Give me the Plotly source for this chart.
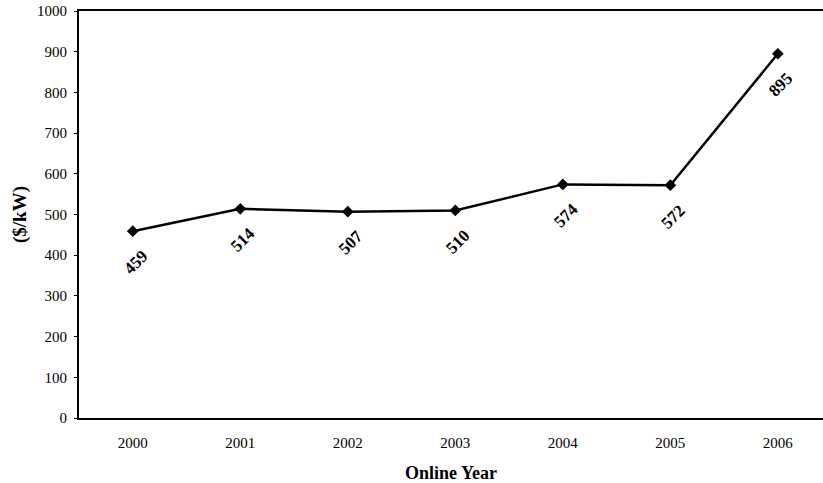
import plotly.graph_objects as go

years = [2000, 2001, 2002, 2003, 2004, 2005, 2006]
costs = [459, 514, 507, 510, 574, 572, 895]
y_ticks = [0, 100, 200, 300, 400, 500, 600, 700, 800, 900, 1000]

serif = "Liberation Serif, Times New Roman, serif"

fig = go.Figure()
fig.add_trace(go.Scatter(
    x=years, y=costs, mode="lines+markers",
    line=dict(color="black", width=2.5),
    marker=dict(symbol="diamond", size=9, color="black"),
    showlegend=False, hoverinfo="skip",
))

for xv, yv in zip(years, costs):
    fig.add_annotation(
        x=xv, y=yv, xref="x", yref="y", text=f"<b>{yv}</b>",
        showarrow=False, textangle=-45, yshift=-31, xshift=3,
        font=dict(family=serif, size=17, color="black"),
    )

fig.update_layout(
    width=823, height=483,
    margin=dict(l=79, r=0, t=11, b=65, autoexpand=False),
    paper_bgcolor="white", plot_bgcolor="white",
    font=dict(family=serif, size=14, color="black"),
    xaxis=dict(
        range=[1999.5, 2006.42], tickvals=years, ticktext=[str(y) for y in years],
        showgrid=False, zeroline=False, showline=True, linecolor="black", linewidth=2,
        mirror=True, ticks="", ticklabelstandoff=10, automargin=False,
        tickfont=dict(family=serif, size=15),
        title=dict(text="<b>Online Year</b>", font=dict(family=serif, size=18), standoff=16),
    ),
    yaxis=dict(
        range=[0, 1000], tickvals=y_ticks, automargin=False,
        showgrid=False, zeroline=False, showline=True, linecolor="black", linewidth=2,
        ticks="outside", ticklen=3, tickcolor="black", ticklabelstandoff=4,
        tickfont=dict(family=serif, size=15),
        title=dict(text="<b>($/kW)</b>", font=dict(family=serif, size=19), standoff=5),
    ),
)

fig.write_html("out.html", config={"displayModeBar": False},
               post_script="document.body.style.margin='0';")
